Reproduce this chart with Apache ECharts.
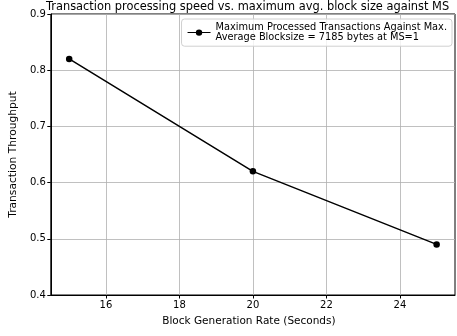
<!DOCTYPE html>
<html><head><meta charset="utf-8">
<script src="https://cdn.jsdelivr.net/npm/echarts@6/dist/echarts.min.js"></script>
<style>html,body{margin:0;padding:0;background:#fff}#c{width:457px;height:336px}</style>
</head><body><div id="c"></div>
<script>
const blockRates = [15, 20, 25];
const throughput = [0.82, 0.62, 0.49];
const xTicks = [16, 18, 20, 22, 24];
const yTicks = [0.4, 0.5, 0.6, 0.7, 0.8, 0.9];
const seriesName = 'Maximum Processed Transactions Against Max.\nAverage Blocksize = 7185 bytes at MS=1';
const F = 'DejaVu Sans';
const chart = echarts.init(document.getElementById('c'), null, {renderer:'canvas'});
chart.setOption({
  animation:false,
  backgroundColor:'#fff',
  title:{text:'Transaction processing speed vs. maximum avg. block size against MS',
    left:41, top:-3, padding:[5,5,5,5],
    textStyle:{fontFamily:F,fontSize:11.4,fontWeight:'normal',color:'#000'}},
  legend:{right:5, top:19, orient:'vertical',
    backgroundColor:'rgba(255,255,255,0.8)', borderColor:'#d0d0d0', borderWidth:1, borderRadius:3,
    padding:[3,5,3,6], itemWidth:23, itemHeight:7, itemGap:4,
    textStyle:{fontFamily:F,fontSize:9.8,color:'#000',lineHeight:10.6},
    data:[{name:seriesName, icon:'path://M0,3 L23,3 L23,4 L0,4 Z M11.5,0.3 A3.2,3.2 0 1 1 11.49,0.3 Z'}]},
  grid:{left:46,right:2,top:14,bottom:41,show:true,borderColor:'#000',borderWidth:1,containLabel:false},
  xAxis:{type:'value',min:14.5,max:25.5,
    axisLine:{show:true,lineStyle:{color:'#000',width:1}},
    axisTick:{show:true,length:3.5,lineStyle:{color:'#000'},customValues:xTicks},
    axisLabel:{fontFamily:F,fontSize:10,color:'#000',margin:5,customValues:xTicks},
    splitLine:{show:true,lineStyle:{color:'#b0b0b0',width:0.8}},
    name:'Block Generation Rate (Seconds)',nameLocation:'middle',nameGap:21,
    nameTextStyle:{fontFamily:F,fontSize:10.5,color:'#000',padding:[0,8,0,0]}},
  yAxis:{type:'value',min:0.4,max:0.9,interval:0.1,
    axisLine:{show:true,lineStyle:{color:'#000',width:1}},
    axisTick:{show:true,length:3.5,lineStyle:{color:'#000'}},
    axisLabel:{fontFamily:F,fontSize:10,color:'#000',margin:5,formatter:v=>v.toFixed(1)},
    splitLine:{show:true,lineStyle:{color:'#b0b0b0',width:0.8}},
    name:'Transaction Throughput',nameLocation:'middle',nameGap:30,
    nameTextStyle:{fontFamily:F,fontSize:10.7,color:'#000'}},
  series:[{type:'line',name:seriesName,
    data:blockRates.map((x,i)=>[x,throughput[i]]),
    symbol:'circle',symbolSize:6.5,
    lineStyle:{color:'#000',width:1.5},itemStyle:{color:'#000'}}]
});
</script></body></html>
